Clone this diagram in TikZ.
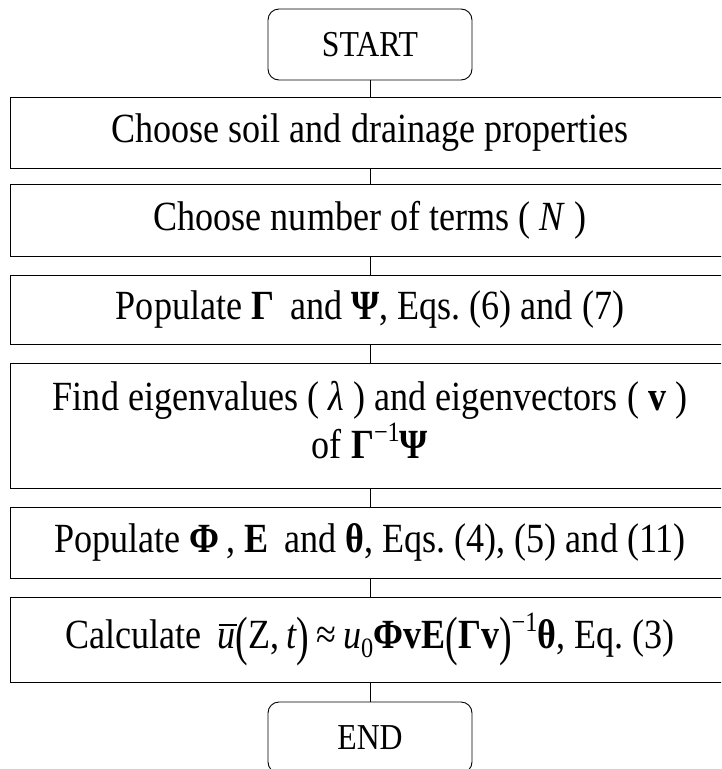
\documentclass[tikz,border=0pt]{standalone}
\usepackage{fontspec}
\usepackage{graphicx}
\setmainfont{Liberation Serif}[FakeStretch=0.87]
\tikzset{
  stepbox/.style={draw=black, line width=1pt, minimum width=720pt, inner sep=0pt, align=center,
    font=\fontsize{41.5}{45}\selectfont\frenchspacing},
  termbox/.style={draw=black, line width=0.9pt, rounded corners=11pt, minimum width=204pt, inner sep=0pt,
    font=\fontsize{36.5}{40}\selectfont},
  link/.style={draw=black, line width=0.8pt}
}
\newcommand\bv[1]{\textbf{#1}}
\newcommand\iv[1]{\textit{#1}}
\newcommand\supm{\raisebox{0.42em}{\fontsize{28}{28}\selectfont −1}}
\newcommand\bigp[1]{\raisebox{-0.14em}{\scalebox{1.05}[1.3]{#1}}}
\newcommand\ubar{\makebox[0pt][l]{\hspace{0.04em}\rule[0.56em]{0.42em}{1.3pt}}\iv{u}}
\begin{document}
\begin{tikzpicture}[x=1pt,y=-1pt]
\useasboundingbox (0,0) rectangle (721,769);
\clip (0,0) rectangle (721,769);
\node[termbox, minimum height=71pt] (start) at (370,44.5) {START};
\node[stepbox, minimum height=71pt] (b1) at (370,132.5) {Choose soil and drainage properties};
\node[stepbox, minimum height=72pt] (b2) at (370,220) {Choose number of terms ( \iv{N} )};
\node[stepbox, minimum height=69pt] (b3) at (370,309.5) {Populate \bv{Γ}\, and \bv{Ψ}, Eqs. (6) and (7)};
\node[stepbox, minimum height=125pt] (b4) at (370,425.5) {\raisebox{4pt}{\begin{tabular}{@{}c@{}}Find eigenvalues ( \iv{λ} ) and eigenvectors ( \bv{v} )\\[-1pt]of \bv{Γ}\supm\bv{Ψ}\end{tabular}}};
\node[stepbox, minimum height=71pt] (b5) at (370,542.5) {Populate \bv{Φ}\,, \bv{E}\, and \bv{θ}, Eqs. (4), (5) and (11)};
\node[stepbox, minimum height=85pt] (b6) at (370,639.5) {Calculate\, \ubar\bigp{(}Z,\,\iv{t}\bigp{)}\,≈\,\iv{u}\raisebox{-0.22em}{\fontsize{28}{28}\selectfont 0}\bv{ΦvE}\bigp{(}\bv{Γv}\bigp{)}\supm\bv{θ}, Eq. (3)};
\node[termbox, minimum height=71pt] (finish) at (370,737.5) {END};
\draw[link] (start) -- (b1);
\draw[link] (b1) -- (b2);
\draw[link] (b2) -- (b3);
\draw[link] (b3) -- (b4);
\draw[link] (b4) -- (b5);
\draw[link] (b5) -- (b6);
\draw[link] (b6) -- (finish);
\end{tikzpicture}
\end{document}
